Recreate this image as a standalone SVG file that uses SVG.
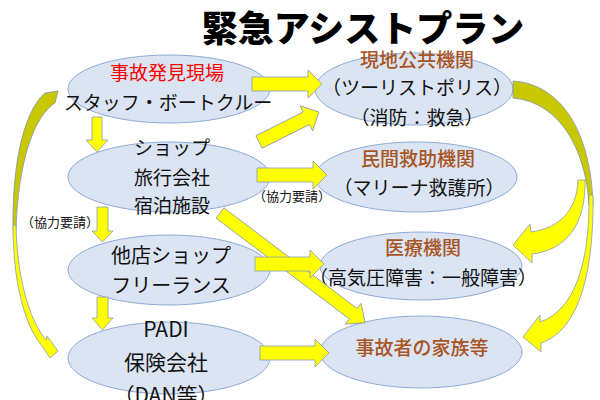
<svg xmlns="http://www.w3.org/2000/svg" width="600" height="400" viewBox="0 0 600 400">
<style>
.nd{fill:#dae4f3;stroke:#8eaad6;stroke-width:1}
.t{font-family:"Noto Sans CJK JP","Noto Sans",sans-serif;font-size:19px;text-anchor:middle;fill:#111}
.br{fill:#a9541f;font-weight:500}
.rd{fill:#ff0000}
.sm{font-size:13px}
.ar{fill:#ffff00;stroke:#8a9ab2;stroke-width:0.8;stroke-linejoin:miter}
.ol{fill:#c9c800;stroke:#7f93b0;stroke-width:0.8}
.title{font-family:"Noto Sans CJK JP","Noto Sans",sans-serif;font-size:36px;font-weight:900;text-anchor:middle;fill:#000}
</style>
<rect width="600" height="400" fill="#ffffff"/>
<text class="title" x="363" y="42">緊急アシストプラン</text>

<g id="n-scene">
<ellipse class="nd" cx="169" cy="89" rx="101" ry="34"/>
<text class="t rd" x="167" y="80">事故発見現場</text>
<text class="t" x="168" y="110">スタッフ・ボートクルー</text>
</g>
<g id="n-shop">
<ellipse class="nd" cx="169" cy="177" rx="101" ry="35"/>
<text class="t" x="172" y="155">ショップ</text>
<text class="t" x="172" y="185">旅行会社</text>
<text class="t" x="172" y="213">宿泊施設</text>
</g>
<g id="n-other">
<ellipse class="nd" cx="169" cy="270" rx="101" ry="35"/>
<text class="t" x="171" y="263" style="font-size:20px">他店ショップ</text>
<text class="t" x="171" y="293" style="font-size:20px">フリーランス</text>
</g>
<g id="n-padi">
<ellipse class="nd" cx="169" cy="358" rx="101" ry="36"/>
<text class="t" x="166" y="337" style="font-size:21px">PADI</text>
<text class="t" x="166" y="370" style="font-size:21px">保険会社</text>
<text class="t" x="166" y="403" style="font-size:21px">（DAN等）</text>
</g>
<g id="n-public">
<ellipse class="nd" cx="414" cy="89" rx="99" ry="36"/>
<text class="t br" x="417" y="67">現地公共機関</text>
<text class="t" x="417" y="95">（ツーリストポリス）</text>
<text class="t" x="417" y="125">（消防：救急）</text>
</g>
<g id="n-rescue">
<ellipse class="nd" cx="416" cy="177" rx="101" ry="35"/>
<text class="t br" x="418" y="166">民間救助機関</text>
<text class="t" x="419" y="195">（マリーナ救護所）</text>
</g>
<g id="n-medical">
<ellipse class="nd" cx="421" cy="266" rx="101" ry="34"/>
<text class="t br" x="423" y="255">医療機関</text>
<text class="t" x="423" y="285">（高気圧障害：一般障害）</text>
</g>
<g id="n-family">
<ellipse class="nd" cx="421" cy="352" rx="101" ry="36"/>
<text class="t br" x="422" y="355">事故者の家族等</text>
</g>

<g id="connectors">
<polygon class="ar" points="92,117 102,117 102,140 108,140 97,152 86,140 92,140"/>
<polygon class="ar" points="97,207 108,207 108,231 113,231 102.5,242 92,231 97,231"/>
<polygon class="ar" points="97,297 108,297 108,318 113,318 102.5,330 92,318 97,318"/>
<polygon class="ar" points="252,77 308,77 308,70 322,84 308,98 308,91 252,91"/>
<polygon class="ar" points="257,168 313,168 313,161 327,175 313,189 313,182 257,182"/>
<polygon class="ar" transform="translate(220,213) rotate(37.1)" points="0,-6.5 167,-6.5 167,-13 182,0 167,13 167,6.5 0,6.5"/>
<polygon class="ar" points="255,257 310,257 310,250 324,264 310,278 310,271 255,271"/>
<polygon class="ar" points="260,346 315,346 315,339 329,353 315,367 315,360 260,360"/>
<polygon class="ar" transform="translate(259,142) rotate(-26.6)" points="0,-7 53,-7 53,-14 67,0 53,14 53,7 0,7"/>
<path class="ol" d="M45,93 L58,91 L55,103 C35,115 18,160 16,230 L13,230 C12,160 25,110 45,93 Z"/>
<path class="ar" d="M13,225 C13,275 22,322 42,346 L50,358 L58,351 L47,336 L46,340 C28,318 17,275 16,225 Z"/>
<path class="ol" d="M513,81 C560,84 591,130 593,205 L589,205 C586,150 560,102 513,98 Z"/>
<path class="ar" d="M578,180 C577,210 560,228 531,232 L530,224 L513,245 L532,263 L532,254 C566,250 586,225 585,180 Z"/>
<path class="ar" d="M589,195 C590,262 575,310 540,322 L540,315 L523,337 L541,352 L541,343 C580,330 594,270 593,195 Z"/>
</g>
<text class="t sm" x="292" y="201">（協力要請）</text>
<text class="t sm" x="60" y="227">（協力要請）</text>
</svg>
